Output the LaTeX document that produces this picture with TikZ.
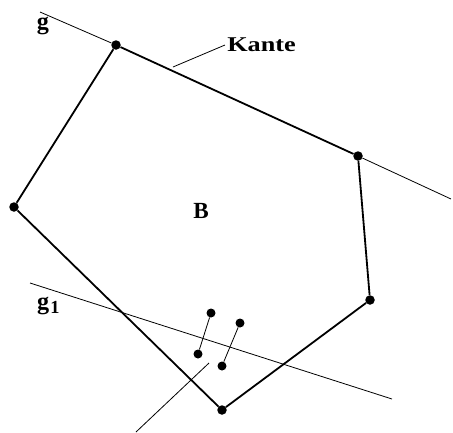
\documentclass[tikz,border=0pt]{standalone}
\usepackage{fontspec}
\setmainfont{Liberation Serif}
\begin{document}
\begin{tikzpicture}[x=1pt,y=-1pt,
  edge/.style={line width=1.8pt},
  thin/.style={line width=0.8pt},
  dot/.style={circle,fill=black,inner sep=0pt,minimum size=9.5pt},
  sdot/.style={circle,fill=black,inner sep=0pt,minimum size=9pt},
  lbl/.style={font=\bfseries\fontsize{21}{21}\selectfont,inner sep=0pt}]
\useasboundingbox (0,0) rectangle (453,432);
\node[dot] (A) at (116,45) {};
\node[dot] (Bv) at (358,156) {};
\node[dot] (C) at (370,300) {};
\node[dot] (D) at (222,410) {};
\node[dot] (E) at (14,207) {};
\coordinate (g0) at (40,12);
\coordinate (g9) at (451,199);
\coordinate (h0) at (30,283);
\coordinate (h9) at (392,399);
\draw[thin] (g0) -- (A);
\draw[thin] (Bv) -- (g9);
\draw[thin] (h0) -- (h9);
\draw[edge] (A) -- (Bv) -- (C) -- (D) -- (E) -- (A);
\node[sdot] (p1) at (211,313) {};
\node[sdot] (q1) at (198,354) {};
\node[sdot] (p2) at (240,323) {};
\node[sdot] (q2) at (222,366) {};
\draw[thin] (p1) -- (q1);
\draw[thin] (p2) -- (q2);
\node[lbl,anchor=west,xscale=1.25] (kante) at (227,45) {Kante};
\coordinate (k0) at (173,67);
\draw[thin] (k0) -- ([xshift=-2pt]kante.west);
\coordinate (s0) at (136,432);
\coordinate (s1) at (209,363);
\draw[thin] (s0) -- (s1);
\node[lbl,scale=1.1] (B) at (201,211) {B};
\node[lbl,anchor=base,scale=1.15] (g) at (43,29) {g};
\node[lbl,anchor=base west,scale=1.15] (g1) at (37,309) {g\raisebox{-4pt}{\fontsize{16}{16}\selectfont\kern1pt 1}};
\end{tikzpicture}
\end{document}
